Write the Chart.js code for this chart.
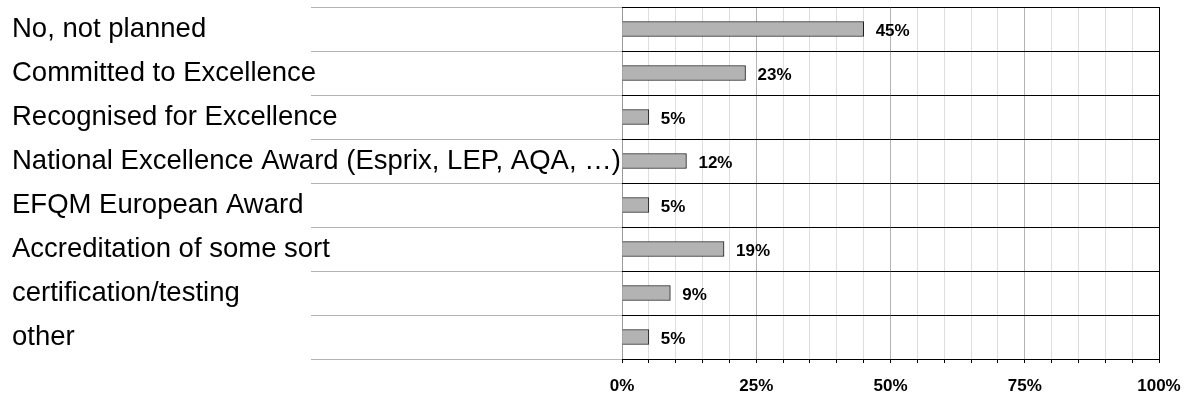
<!DOCTYPE html>
<html>
<head>
<meta charset="utf-8">
<style>
  html, body { margin: 0; padding: 0; background: #ffffff; }
  #wrap { width: 1189px; height: 398px; }
</style>
<script src="https://cdn.jsdelivr.net/npm/chart.js@4/dist/chart.umd.min.js"></script>
</head>
<body>
<div id="wrap"><canvas id="chart" width="1189" height="398"></canvas></div>
<script>
// Survey answers and the share of respondents for each (percent)
const categories = [
  'No, not planned',
  'Committed to Excellence',
  'Recognised for Excellence',
  'National Excellence Award (Esprix, LEP, AQA, …)',
  'EFQM European Award',
  'Accreditation of some sort',
  'certification/testing',
  'other'
];
const shares = [45, 23, 5, 12, 5, 19, 9, 5];
const axisTicks = [0, 25, 50, 75, 100];

const FONT = '"Liberation Sans", Arial, Helvetica, sans-serif';

// Writes the percentage just past the end of each bar
const valueLabels = {
  id: 'valueLabels',
  afterDatasetsDraw(chart) {
    const ctx = chart.ctx;
    const meta = chart.getDatasetMeta(0);
    ctx.save();
    ctx.font = 'bold 17px ' + FONT;
    ctx.fillStyle = '#000000';
    ctx.textAlign = 'left';
    ctx.textBaseline = 'middle';
    meta.data.forEach((bar, i) => {
      ctx.fillText(shares[i] + '%', bar.x + 12, bar.y + 2);
    });
    ctx.restore();
  }
};

new Chart(document.getElementById('chart'), {
  type: 'bar',
  data: {
    labels: categories,
    datasets: [{
      data: shares,
      backgroundColor: '#b3b3b3',
      borderColor: '#1a1a1a',
      borderWidth: 1,
      borderSkipped: 'start',
      barThickness: 15
    }]
  },
  options: {
    indexAxis: 'y',
    responsive: false,
    devicePixelRatio: 1,
    animation: false,
    layout: { padding: { left: 12, top: 7, right: 30, bottom: 0 } },
    plugins: {
      legend: { display: false },
      tooltip: { enabled: false }
    },
    scales: {
      x: {
        min: 0,
        max: 100,
        afterFit(scale) {
          scale.height = 39;
          scale.paddingLeft = 0;
          scale.paddingRight = 0;
        },
        ticks: {
          stepSize: 5,
          autoSkip: false,
          maxRotation: 0,
          padding: 13,
          color: '#000000',
          font: { family: FONT, size: 17, weight: 'bold' },
          callback: (v) => axisTicks.includes(v) ? v + '%' : ''
        },
        grid: {
          drawTicks: true,
          tickLength: 4,
          tickColor: '#000000',
          lineWidth: 1,
          color: (c) => {
            const v = c.tick ? c.tick.value : 0;
            if (v === 100) return '#000000';
            if (v === 0) return '#9a9a9a';
            return v % 25 === 0 ? '#b4b4b4' : '#dedede';
          }
        },
        border: { display: true, color: '#000000', width: 1 }
      },
      y: {
        afterFit(scale) {
          scale.width = 610;
          scale.paddingTop = 0;
          scale.paddingBottom = 0;
        },
        ticks: {
          crossAlign: 'far',
          color: '#000000',
          font: { family: FONT, size: 27.5 },
          autoSkip: false
        },
        grid: {
          offset: true,
          color: '#000000',
          lineWidth: 1,
          drawTicks: true,
          tickLength: 311,
          tickColor: '#b4b4b4'
        },
        border: { display: false }
      }
    }
  },
  plugins: [valueLabels]
});
</script>
</body>
</html>
